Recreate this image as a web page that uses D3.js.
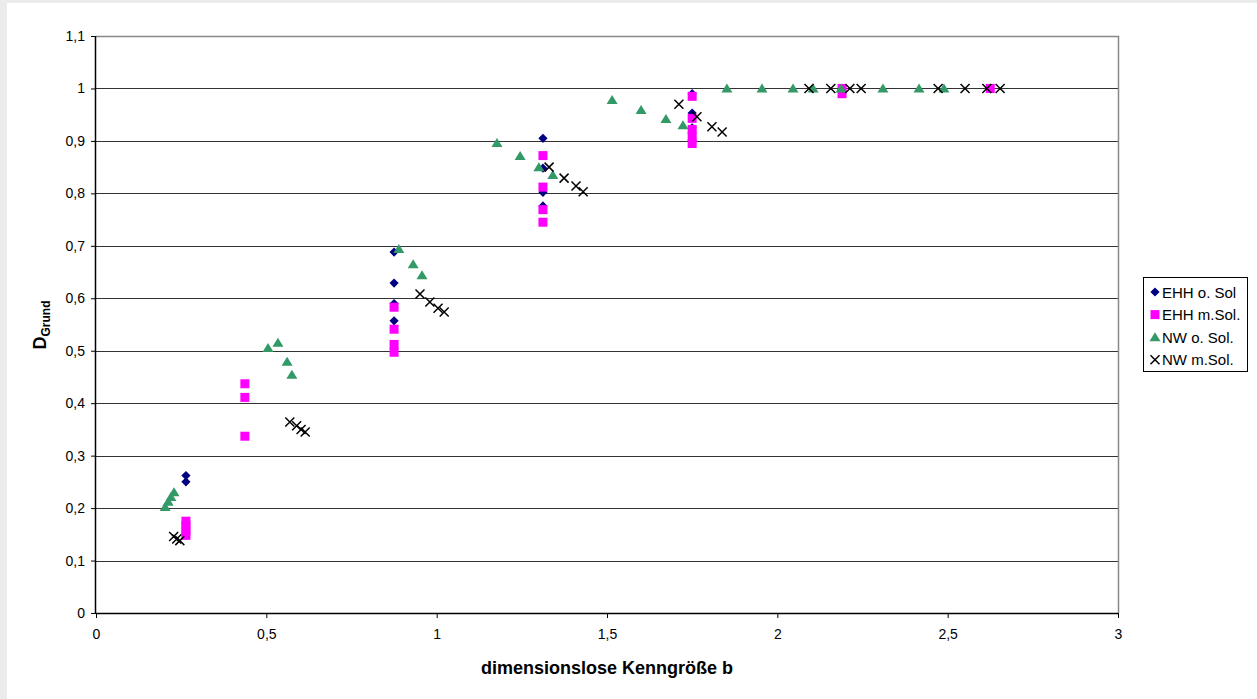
<!DOCTYPE html>
<html>
<head>
<meta charset="utf-8">
<script src="https://cdn.jsdelivr.net/npm/d3@7"></script>
<style>
  html, body { margin: 0; padding: 0; background: #ebebeb; }
  svg { display: block; font-family: "Liberation Sans", Arial, sans-serif; }
</style>
</head>
<body>
<svg id="chart" width="1257" height="699"></svg>
<script>
// x = dimensionslose Kenngröße b, y = D_Grund
const ehhOSol = [[0.264, 0.262], [0.264, 0.250], [0.875, 0.688], [0.875, 0.629], [0.875, 0.590], [0.875, 0.557],
  [1.312, 0.905], [1.312, 0.848], [1.312, 0.802], [1.312, 0.776], [1.75, 0.99], [1.75, 0.953], [1.75, 0.925],
  [2.19, 1.0], [2.625, 1.0]]
const ehhMSol = [[0.264, 0.175], [0.264, 0.166], [0.264, 0.157], [0.264, 0.148], [0.437, 0.437], [0.437, 0.411],
  [0.437, 0.337], [0.875, 0.583], [0.875, 0.541], [0.875, 0.512], [0.875, 0.497], [1.312, 0.872], [1.312, 0.812],
  [1.312, 0.769], [1.312, 0.745], [1.75, 0.985], [1.75, 0.943], [1.75, 0.922], [1.75, 0.908], [1.75, 0.895],
  [2.19, 1.0], [2.19, 0.99], [2.625, 1.0]]
const nwOSol = [[0.203, 0.202], [0.212, 0.212], [0.220, 0.221], [0.229, 0.230], [0.505, 0.505], [0.534, 0.515],
  [0.561, 0.479], [0.575, 0.454], [0.889, 0.694], [0.931, 0.665], [0.957, 0.644], [1.177, 0.896], [1.245, 0.871],
  [1.300, 0.850], [1.341, 0.835], [1.515, 0.978], [1.600, 0.959], [1.673, 0.942], [1.723, 0.930], [1.852, 1.0],
  [1.955, 1.0], [2.046, 1.0], [2.105, 1.0], [2.187, 1.0], [2.310, 1.0], [2.416, 1.0], [2.489, 1.0]]
const nwMSol = [[0.228, 0.146], [0.237, 0.141], [0.246, 0.138], [0.569, 0.364], [0.589, 0.357], [0.602, 0.350],
  [0.614, 0.345], [0.951, 0.608], [0.980, 0.593], [1.004, 0.581], [1.022, 0.574], [1.330, 0.850], [1.374, 0.829],
  [1.409, 0.814], [1.430, 0.803], [1.711, 0.970], [1.764, 0.946], [1.808, 0.927], [1.838, 0.917], [2.093, 1.0],
  [2.157, 1.0], [2.213, 1.0], [2.246, 1.0], [2.472, 1.0], [2.551, 1.0], [2.615, 1.0], [2.654, 1.0]]

const seriesNames = ['EHH o. Sol', 'EHH m.Sol.', 'NW o. Sol.', 'NW m.Sol.']
const xTicks = [0, 0.5, 1, 1.5, 2, 2.5, 3]
const yTicks = [0, 0.1, 0.2, 0.3, 0.4, 0.5, 0.6, 0.7, 0.8, 0.9, 1, 1.1]

const series = [
  { name: seriesNames[0], data: ehhOSol, shape: 'diamond', color: '#000080' },
  { name: seriesNames[1], data: ehhMSol, shape: 'square', color: '#ff00ff' },
  { name: seriesNames[2], data: nwOSol, shape: 'triangle', color: '#339966' },
  { name: seriesNames[3], data: nwMSol, shape: 'cross', color: '#000000' }
]

const PLOT = { left: 96, right: 1118, top: 36, bottom: 613 }
const fmt = d => String(d).replace('.', ',')

const svg = d3.select('#chart')

// white panel
svg.append('rect').attr('x', 7).attr('y', 3).attr('width', 1250).attr('height', 696).attr('fill', '#fff')

const x = d3.scaleLinear().domain([0, 3]).range([PLOT.left, PLOT.right])
const y = d3.scaleLinear().domain([0, 1.1]).range([PLOT.bottom, PLOT.top])

// grid lines
svg.append('g')
  .selectAll('line')
  .data(yTicks.slice(1, -1))
  .join('line')
  .attr('x1', PLOT.left).attr('x2', PLOT.right)
  .attr('y1', d => Math.round(y(d)) + 0.5).attr('y2', d => Math.round(y(d)) + 0.5)
  .attr('stroke', '#333').attr('stroke-width', 1)

// plot frame (top + right)
svg.append('path')
  .attr('d', `M${PLOT.left},${PLOT.top + 0.5}H${PLOT.right + 0.5}V${PLOT.bottom}`)
  .attr('fill', 'none').attr('stroke', '#888').attr('stroke-width', 1.5)

// axes
const yAxis = d3.axisLeft(y).tickValues(yTicks).tickFormat(fmt).tickSize(5).tickPadding(6)
const yG = svg.append('g').attr('transform', `translate(${PLOT.left},0)`).call(yAxis)
const xAxis = d3.axisBottom(x).tickValues(xTicks).tickFormat(fmt).tickSize(5).tickPadding(11)
const xG = svg.append('g').attr('transform', `translate(0,${PLOT.bottom})`).call(xAxis)

svg.selectAll('.domain').attr('stroke', '#000').attr('stroke-width', 1.5)
svg.selectAll('.tick line').attr('stroke', '#000')
svg.selectAll('.tick text').style('font-size', '14px').attr('fill', '#000')
  .style('font-family', '"Liberation Sans", Arial, sans-serif')
xG.select('.domain').attr('d', `M${PLOT.left},0.5H${PLOT.right}`)
yG.select('.domain').attr('d', `M-0.5,${PLOT.top}V${PLOT.bottom}`)

// markers
function drawMarker (g, shape, color) {
  if (shape === 'diamond') {
    g.append('path').attr('d', 'M0,-4.6L4.6,0L0,4.6L-4.6,0Z').attr('fill', color)
  } else if (shape === 'square') {
    g.append('rect').attr('x', -4.5).attr('y', -4.5).attr('width', 9).attr('height', 9).attr('fill', color)
  } else if (shape === 'triangle') {
    g.append('path').attr('d', 'M0,-5L5.5,4L-5.5,4Z').attr('fill', color)
  } else {
    g.append('path').attr('d', 'M-4.5,-4.5L4.5,4.5M-4.5,4.5L4.5,-4.5')
      .attr('stroke', color).attr('stroke-width', 1.5).attr('fill', 'none')
  }
}

series.forEach(s => {
  svg.append('g')
    .selectAll('g')
    .data(s.data)
    .join('g')
    .attr('transform', d => `translate(${x(d[0])},${y(d[1])})`)
    .each(function () { drawMarker(d3.select(this), s.shape, s.color) })
})

// axis titles
svg.append('text')
  .attr('x', (PLOT.left + PLOT.right) / 2).attr('y', 674)
  .attr('text-anchor', 'middle')
  .style('font-size', '18px').style('font-weight', 'bold')
  .text('dimensionslose Kenngröße b')

const yTitle = svg.append('text')
  .attr('transform', 'translate(46,325) rotate(-90)')
  .attr('text-anchor', 'middle')
  .style('font-weight', 'bold')
yTitle.append('tspan').style('font-size', '18px').text('D')
yTitle.append('tspan').style('font-size', '12px').attr('dy', 4).text('Grund')

// legend
const legend = svg.append('g').attr('transform', 'translate(1143,277)')
legend.append('rect').attr('x', 0.5).attr('y', 0.5).attr('width', 104).attr('height', 94)
  .attr('fill', '#fff').attr('stroke', '#000').attr('stroke-width', 1)
series.forEach((s, i) => {
  const row = legend.append('g').attr('transform', `translate(12,${15 + i * 22.6})`)
  drawMarker(row, s.shape, s.color)
  row.append('text').attr('x', 7).attr('y', 5.5)
    .style('font-size', '15px').text(s.name)
})
</script>
</body>
</html>
